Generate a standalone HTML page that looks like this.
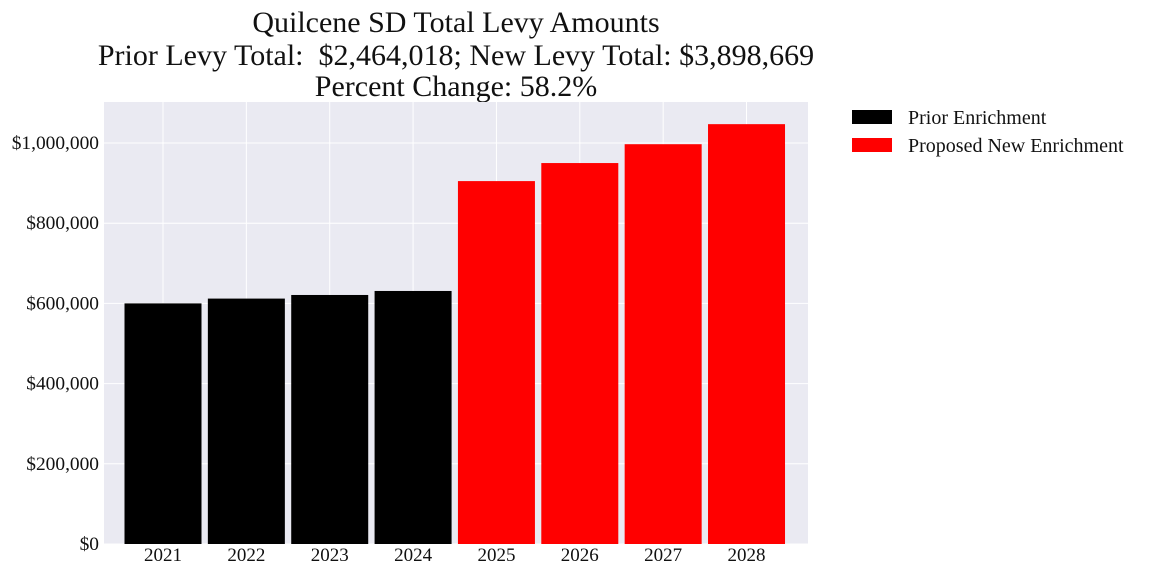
<!DOCTYPE html>
<html><head><meta charset="utf-8"><style>
body{margin:0;background:#fff;}
svg text{font-family:"Liberation Serif",serif;fill:#111;}
</style></head><body>
<svg id="chart" width="1152" height="576" xmlns="http://www.w3.org/2000/svg">
<text x="456" y="32" font-size="30" text-anchor="middle">Quilcene SD Total Levy Amounts</text>
<text x="456" y="65" font-size="30" text-anchor="middle" xml:space="preserve">Prior Levy Total:  $2,464,018; New Levy Total: $3,898,669</text>
<text x="456" y="96" font-size="30" text-anchor="middle">Percent Change: 58.2%</text>
<rect x="104" y="102" width="704" height="442" fill="#eaeaf2"/>
<g id="grid"></g><g id="bars"></g><g id="axes"></g>
<g>
<rect x="852" y="110" width="40" height="14" fill="#000"/>
<text x="908" y="124" font-size="20">Prior Enrichment</text>
<rect x="852" y="138" width="40" height="14" fill="#ff0000"/>
<text x="908" y="152" font-size="20">Proposed New Enrichment</text>
</g>
</svg>
<script>
const years=["2021","2022","2023","2024","2025","2026","2027","2028"];
const values=[600000,612000,621000,631000,905000,950000,997000,1047000];
const isNew=[false,false,false,false,true,true,true,true];
const yTicks=[0,200000,400000,600000,800000,1000000];
const yTickLabels=["$0","$200,000","$400,000","$600,000","$800,000","$1,000,000"];
const NS="http://www.w3.org/2000/svg";
const y=v=>544-v*(401/1000000);
const x=i=>163+i*83.36;
const bw=77;
function mk(tag,attrs,parent){const e=document.createElementNS(NS,tag);for(const k in attrs)e.setAttribute(k,attrs[k]);document.getElementById(parent).appendChild(e);return e;}
yTicks.forEach((t,i)=>{
 const l=mk('line',{x1:104,x2:808,y1:y(t),y2:y(t),stroke:'#fff','stroke-width':1},'grid');
 
 
 const tx=mk('text',{x:99,y:y(t)+6,'font-size':19.4,'text-anchor':'end'},'axes');
 tx.textContent=yTickLabels[i];
 
 
});
years.forEach((yr,i)=>{
 const l=mk('line',{x1:x(i),x2:x(i),y1:102,y2:544,stroke:'#fff','stroke-width':1},'grid');
 
 
 const b=mk('rect',{x:x(i)-bw/2,y:y(values[i]),width:bw,height:544-y(values[i]),fill:isNew[i]?'#ff0000':'#000'},'bars');
 
 
 const tx=mk('text',{x:x(i),y:561,'font-size':19,'text-anchor':'middle'},'axes');
 tx.textContent=yr;
 
 
});
</script>
</body></html>
